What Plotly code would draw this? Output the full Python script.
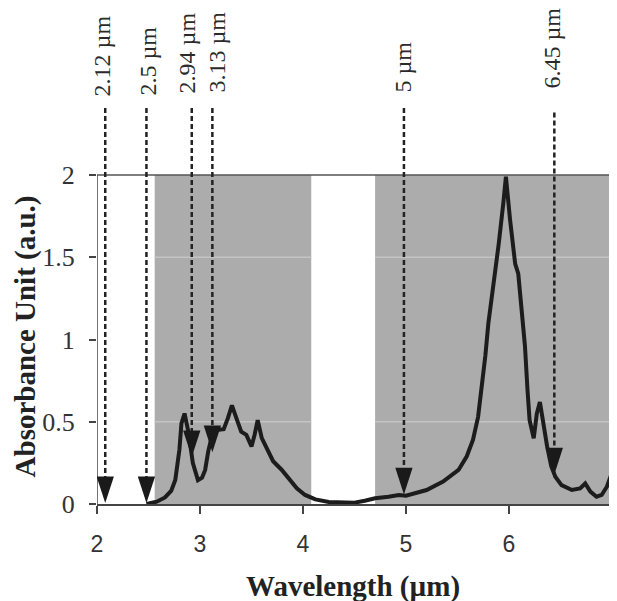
import plotly.graph_objects as go

# Spectrum (wavelength in µm, absorbance in a.u.)
wavelength = [2.48, 2.58, 2.66, 2.72, 2.76, 2.80, 2.82, 2.85, 2.87, 2.89, 2.93, 2.98, 3.02, 3.05,
              3.08, 3.11, 3.16, 3.23, 3.27, 3.31, 3.36, 3.40, 3.45, 3.50, 3.53, 3.56, 3.60, 3.65,
              3.71, 3.79, 3.86, 3.94, 4.02, 4.12, 4.25, 4.40, 4.50, 4.60, 4.70, 4.83, 4.93, 5.0,
              5.1, 5.2, 5.36, 5.51, 5.59, 5.65, 5.70, 5.735, 5.77, 5.80, 5.85, 5.90, 5.945, 5.97,
              6.01, 6.06, 6.09, 6.12, 6.155, 6.18, 6.20, 6.24, 6.27, 6.30, 6.33, 6.37, 6.41, 6.45,
              6.51, 6.61, 6.69, 6.74, 6.79, 6.85, 6.90, 6.95, 7.0]
absorbance = [0.0, 0.014, 0.04, 0.08, 0.146, 0.33, 0.49, 0.55, 0.49, 0.43, 0.25, 0.145, 0.16, 0.207,
              0.32, 0.40, 0.45, 0.455, 0.52, 0.60, 0.51, 0.44, 0.42, 0.35, 0.42, 0.51, 0.40, 0.33,
              0.26, 0.21, 0.16, 0.095, 0.055, 0.028, 0.012, 0.008, 0.008, 0.02, 0.035, 0.044, 0.055, 0.05,
              0.065, 0.085, 0.136, 0.207, 0.29, 0.39, 0.53, 0.71, 0.90, 1.10, 1.32, 1.58, 1.83, 1.99,
              1.73, 1.46, 1.40, 1.22, 0.96, 0.69, 0.51, 0.40, 0.55, 0.62, 0.49, 0.35, 0.23, 0.166,
              0.115, 0.085, 0.095, 0.125, 0.075, 0.044, 0.055, 0.105, 0.19]

# Shaded bands
band_start = [2.56, 4.70]
band_end = [4.08, 7.0]

# Marker arrows
arrow_labels = ["2.12 µm", "2.5 µm", "2.94 µm", "3.13 µm", "5 µm", "6.45 µm"]
arrow_x = [2.08, 2.48, 2.92, 3.12, 4.98, 6.44]
arrow_tip = [0.006, 0.006, 0.285, 0.315, 0.058, 0.18]
arrow_top = [2.407, 2.407, 2.407, 2.407, 2.407, 2.38]
label_x = [2.058, 2.495, 2.883, 3.165, 4.971, 6.427]
label_y = [1.005, 1.0074, 1.0124, 1.0124, 1.0124, 1.0248]   # paper units (bottom of text)

y_ticks = [0, 0.5, 1, 1.5, 2]
y_ticktext = ["0", "0.5", "1", "1.5", "2"]
x_ticks = [2, 3, 4, 5, 6, 7]

fig = go.Figure()

shapes = []
for s, e in zip(band_start, band_end):
    shapes.append(dict(type="rect", xref="x", yref="y", x0=s, x1=e, y0=0, y1=2,
                       fillcolor="rgb(172,172,172)", line=dict(width=0), layer="below"))
    for gy in (0.5, 1.5):
        shapes.append(dict(type="line", xref="x", yref="y", x0=s, x1=e, y0=gy, y1=gy,
                           line=dict(color="rgb(196,196,196)", width=1.5), layer="below"))
# top line at y=2 and left axis line
shapes.append(dict(type="line", xref="x", yref="y", x0=2, x1=7, y0=2, y1=2,
                   line=dict(color="#555555", width=1.5), layer="below"))
shapes.append(dict(type="line", xref="x", yref="y", x0=2, x1=2, y0=0, y1=2,
                   line=dict(color="#444444", width=1.5), layer="below"))

# dashed arrow shafts
lx, ly = [], []
for x, t, tp in zip(arrow_x, arrow_tip, arrow_top):
    lx += [x, x, None]
    ly += [tp, t + 0.06, None]
fig.add_trace(go.Scatter(x=lx, y=ly, mode="lines", hoverinfo="skip",
                         line=dict(color="#222222", width=2.5, dash="5px,3px")))

# spectrum
fig.add_trace(go.Scatter(x=wavelength, y=absorbance, mode="lines",
                         line=dict(color="#1c1c1c", width=4)))

# arrow heads
fig.add_trace(go.Scatter(x=arrow_x, y=arrow_tip, mode="markers", hoverinfo="skip",
                         marker=dict(symbol="arrow", angle=180, size=28, color="#1a1a1a",
                                     line=dict(width=0))))

annotations = []
for t, x, y in zip(arrow_labels, label_x, label_y):
    annotations.append(dict(x=x, y=y, xref="x", yref="paper", text=t, showarrow=False,
                            textangle=-90, xanchor="center", yanchor="bottom",
                            font=dict(family="Liberation Serif", size=24, color="#2a2a2a")))
annotations.append(dict(x=0.4966, y=-0.204, xref="paper", yref="paper",
                        text="<b>Wavelength (µm)</b>", showarrow=False,
                        xanchor="center", yanchor="middle",
                        font=dict(family="Liberation Serif", size=29, color="#222222")))
annotations.append(dict(x=-0.138, y=0.4146, xref="paper", yref="paper",
                        text="<b>Absorbance Unit (a.u.)</b>", showarrow=False, textangle=-90,
                        xanchor="center", yanchor="middle",
                        font=dict(family="Liberation Serif", size=29, color="#222222")))

fig.update_layout(
    width=609, height=593,
    margin=dict(l=89, r=5, t=92, b=97, pad=0),
    paper_bgcolor="white", plot_bgcolor="white",
    showlegend=False,
    shapes=shapes,
    annotations=annotations,
    xaxis=dict(range=[2, 7], tickvals=x_ticks, showgrid=False, zeroline=False,
               showline=True, linecolor="#444444", linewidth=1.5,
               ticks="outside", ticklen=8, tickwidth=1.5, tickcolor="#444444",
               ticklabelstandoff=11,
               tickfont=dict(family="Liberation Sans", size=23, color="#333333")),
    yaxis=dict(range=[0, 2.456], tickvals=y_ticks, ticktext=y_ticktext, showgrid=False,
               zeroline=False, showline=False,
               ticks="outside", ticklen=7, tickwidth=1.5, tickcolor="#444444",
               ticklabelstandoff=9,
               tickfont=dict(family="Liberation Serif", size=26, color="#333333")),
)

fig.write_html("out.html")
